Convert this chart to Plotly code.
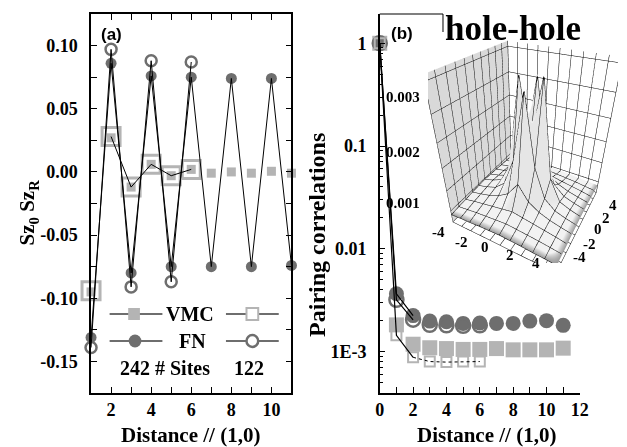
import plotly.graph_objects as go
import numpy as np

W, H = 627, 447

# ---------------- data: panel (a) ----------------
dist_a_242 = [1, 2, 3, 4, 5, 6, 7, 8, 9, 10, 11]
dist_a_122 = [1, 2, 3, 4, 5, 6]
vmc_242_a = [-0.095, 0.027, -0.012, 0.006, -0.003, 0.002, -0.001, 0.0, -0.001, 0.0005, -0.001]
vmc_122_a = [-0.094, 0.028, -0.012, 0.006, -0.003, 0.002]
fn_242_a = [-0.131, 0.086, -0.080, 0.076, -0.075, 0.075, -0.075, 0.074, -0.075, 0.074, -0.074]
fn_122_a = [-0.139, 0.097, -0.091, 0.088, -0.087, 0.087]

yticks_a = [-0.15, -0.10, -0.05, 0.00, 0.05, 0.10]
yticktext_a = ["-0.15", "-0.10", "-0.05", "0.00", "0.05", "0.10"]
xticks_a = [2, 4, 6, 8, 10]

# ---------------- data: panel (b) ----------------
dist_b_242 = [0, 1, 2, 3, 4, 5, 6, 7, 8, 9, 10, 11]
dist_b_122 = [0, 1, 2, 3, 4, 5, 6]
fn_242_b = [1.0, 0.00365, 0.00224, 0.00198, 0.00195, 0.00188, 0.0019, 0.00188, 0.00188, 0.00198, 0.0020, 0.0018]
fn_122_b = [1.0, 0.00319, 0.00204, 0.00182, 0.0018, 0.00178, 0.0018]
vmc_242_b = [1.0, 0.00182, 0.00118, 0.00109, 0.00107, 0.00105, 0.00105, 0.00107, 0.00104, 0.00104, 0.00104, 0.00108]
vmc_122_b = [1.0, 0.00144, 0.00088, 0.00080, 0.00079, 0.00080, 0.00080]

yticks_b = [0.001, 0.01, 0.1, 1]
yticktext_b = ["1E-3", "0.01", "0.1", "1"]
xticks_b = [0, 2, 4, 6, 8, 10, 12]

# ---------------- data: inset surface (units of 1e-3) ----------------
inset_x = [-5, -4, -3, -2, -1, 0, 1, 2, 3, 4, 5]
inset_y = [-5, -4, -3, -2, -1, 0, 1, 2, 3, 4, 5]
inset_z_milli = [
    [0.90, 0.92, 0.93, 0.95, 0.96, 0.97, 0.96, 0.95, 0.93, 0.92, 0.90],
    [0.92, 0.95, 0.98, 1.00, 1.02, 1.04, 1.02, 1.00, 0.98, 0.95, 0.92],
    [0.93, 0.98, 1.02, 1.06, 1.10, 1.14, 1.10, 1.06, 1.02, 0.98, 0.93],
    [0.95, 1.00, 1.06, 1.15, 1.30, 1.62, 1.30, 1.15, 1.06, 1.00, 0.95],
    [0.96, 1.02, 1.10, 1.30, 1.92, 3.30, 1.92, 1.30, 1.10, 1.02, 0.96],
    [0.97, 1.04, 1.14, 1.60, 3.45, 2.20, 3.50, 1.60, 1.14, 1.04, 0.97],
    [0.96, 1.02, 1.10, 1.30, 1.90, 3.40, 1.90, 1.30, 1.10, 1.02, 0.96],
    [0.95, 1.00, 1.06, 1.15, 1.30, 1.60, 1.30, 1.15, 1.06, 1.00, 0.95],
    [0.93, 0.98, 1.02, 1.06, 1.10, 1.14, 1.10, 1.06, 1.02, 0.98, 0.93],
    [0.92, 0.95, 0.98, 1.00, 1.02, 1.04, 1.02, 1.00, 0.98, 0.95, 0.92],
    [0.90, 0.92, 0.93, 0.95, 0.96, 0.97, 0.96, 0.95, 0.93, 0.92, 0.90],
]
inset_xy_labels = ["-4", "-2", "0", "2", "4"]
inset_z_labels = ["0.003", "0.002", "0.001"]

# ---------------- styles ----------------
SERIF = "Liberation Serif"
SANS = "Liberation Sans"
LIGHT = "#b4b4b4"
DARK = "#6e6e6e"


def px(x):
    return x / W


def py(y):
    return 1 - y / H


def bold(items):
    return ["<b>%s</b>" % t for t in items]


fig = go.Figure()

# ---- panel (a) markers ----
fig.add_trace(go.Scatter(x=dist_a_122, y=vmc_122_a, mode="markers", xaxis="x", yaxis="y",
                         marker=dict(symbol="square-open", size=18, color=LIGHT, line=dict(width=3, color=LIGHT)),
                         cliponaxis=False, showlegend=False))
fig.add_trace(go.Scatter(x=dist_a_242, y=vmc_242_a, mode="markers", xaxis="x", yaxis="y",
                         marker=dict(symbol="square", size=9, color=LIGHT), cliponaxis=False, showlegend=False))
fig.add_trace(go.Scatter(x=dist_a_242, y=fn_242_a, mode="markers", xaxis="x", yaxis="y",
                         marker=dict(symbol="circle", size=11, color=DARK), cliponaxis=False, showlegend=False))
fig.add_trace(go.Scatter(x=dist_a_122, y=fn_122_a, mode="markers", xaxis="x", yaxis="y",
                         marker=dict(symbol="circle-open", size=11, color=DARK, line=dict(width=2.5, color=DARK)),
                         cliponaxis=False, showlegend=False))
# ---- panel (a) connecting lines (thin black, on top) ----
for xs, ys in [(dist_a_122[1:], vmc_122_a[1:]), (dist_a_242, fn_242_a), (dist_a_122, fn_122_a)]:
    fig.add_trace(go.Scatter(x=xs, y=ys, mode="lines", xaxis="x", yaxis="y",
                             line=dict(color="black", width=1), showlegend=False, hoverinfo="skip"))

# ---- panel (b) ----
fig.add_trace(go.Scatter(x=dist_b_242, y=vmc_242_b, mode="markers", xaxis="x2", yaxis="y2",
                         marker=dict(symbol="square", size=15, color=LIGHT), cliponaxis=False, showlegend=False))
fig.add_trace(go.Scatter(x=dist_b_242, y=fn_242_b, mode="markers", xaxis="x2", yaxis="y2",
                         marker=dict(symbol="circle", size=15, color=DARK), cliponaxis=False, showlegend=False))
fig.add_trace(go.Scatter(x=dist_b_122, y=fn_122_b, mode="markers", xaxis="x2", yaxis="y2",
                         marker=dict(symbol="circle-open", size=14, color=DARK, line=dict(width=2.5, color=DARK)),
                         cliponaxis=False, showlegend=False))
fig.add_trace(go.Scatter(x=dist_b_122, y=vmc_122_b, mode="markers", xaxis="x2", yaxis="y2",
                         marker=dict(symbol="square-open", size=10, color=LIGHT, line=dict(width=2, color=LIGHT)),
                         cliponaxis=False, showlegend=False))
for xs, ys in [(dist_b_242, fn_242_b), (dist_b_122, fn_122_b), (dist_b_122, vmc_122_b)]:
    fig.add_trace(go.Scatter(x=xs[:3], y=ys[:3], mode="lines", xaxis="x2", yaxis="y2",
                             line=dict(color="black", width=1.2), showlegend=False, hoverinfo="skip"))
fig.add_trace(go.Scatter(x=dist_b_122[2:], y=vmc_122_b[2:], mode="lines", xaxis="x2", yaxis="y2",
                         line=dict(color="black", width=1, dash="dot"), showlegend=False, hoverinfo="skip"))

# ---- inset surface ----
zz = np.array(inset_z_milli) * 1e-3
edge = np.zeros_like(zz)
edge[0, :] = 1
edge[:, -1] = 1
fig.add_trace(go.Surface(
    x=inset_x, y=inset_y, z=zz, surfacecolor=edge, scene="scene",
    colorscale=[[0, "#f2f2f2"], [0.5, "#f2f2f2"], [1, "#9a9a9a"]], cmin=0, cmax=1, showscale=False,
    lighting=dict(ambient=0.95, diffuse=0.2, specular=0.0, roughness=1.0, fresnel=0.0),
    contours=dict(
        x=dict(show=True, start=-5, end=5, size=1, color="black", width=1, highlight=False),
        y=dict(show=True, start=-5, end=5, size=1, color="black", width=1, highlight=False),
        z=dict(highlight=False),
    ),
    hoverinfo="skip",
))

TICK_SIZE = 18
tf = dict(family=SERIF, size=TICK_SIZE, color="black", weight="bold")
ax_common = dict(showline=True, linecolor="black", linewidth=1.5, showgrid=False, zeroline=False,
                 ticks="inside", ticklen=6, tickwidth=1.2, tickcolor="black", tickfont=tf)

xy_tickvals = list(range(-5, 6))
z_tickvals = [0.0005, 0.001, 0.0015, 0.002, 0.0025, 0.003, 0.0035]

scene_axis = dict(showgrid=True, gridcolor="black", gridwidth=1, showline=True, linecolor="black",
                  linewidth=1, ticks="", showspikes=False, title=dict(text=""), showticklabels=False,
                  zeroline=False)

fig.update_layout(
    width=W, height=H,
    margin=dict(l=0, r=0, t=0, b=0),
    paper_bgcolor="white", plot_bgcolor="white",
    font=dict(family=SERIF, size=TICK_SIZE, color="black"),
    showlegend=False,
    xaxis=dict(domain=[px(88), px(293)], range=[1, 11], tickvals=xticks_a, ticktext=bold([str(v) for v in xticks_a]),
               mirror="allticks",
               minor=dict(ticks="inside", ticklen=6, dtick=1, tickcolor="black"), anchor="y", **ax_common),
    yaxis=dict(domain=[py(393), py(14)], range=[-0.175, 0.125], tickvals=yticks_a, ticktext=bold(yticktext_a),
               mirror="allticks", minor=dict(ticks="inside", ticklen=6, dtick=0.025, tick0=0, tickcolor="black"),
               ticklabelstandoff=8, anchor="x", **ax_common),
    xaxis2=dict(domain=[px(383.3), px(588)], range=[0, 12], tickvals=xticks_b,
                ticktext=bold([str(v) for v in xticks_b]),
                minor=dict(ticks="inside", ticklen=6, dtick=1, tickcolor="black"), anchor="y2", **ax_common),
    yaxis2=dict(domain=[py(392.7), py(14)], type="log", range=[-3.4, 0.285], tickvals=yticks_b,
                ticktext=bold(yticktext_b), ticklabelstandoff=8,
                minor=dict(ticks="inside", ticklen=4, dtick="D1", tickcolor="black"), anchor="x2", **ax_common),
    scene=dict(
        domain=dict(x=[0.69, 1.0], y=[0.41, 0.93]),
        bgcolor="rgba(0,0,0,0)",
        xaxis=dict(range=[-5, 5], tickvals=xy_tickvals, showbackground=True,
                   backgroundcolor="#d9d9d9", **scene_axis),
        yaxis=dict(range=[-5, 5], tickvals=xy_tickvals, showbackground=True,
                   backgroundcolor="white", **scene_axis),
        zaxis=dict(range=[0.0007, 0.0036], tickvals=z_tickvals, showbackground=False, **scene_axis),
        aspectmode="manual", aspectratio=dict(x=1, y=1, z=1.35),
        camera=dict(eye=dict(x=0.88, y=-1.68, z=1.27), center=dict(x=-0.05, y=-0.025, z=0),
                    up=dict(x=0, y=0, z=1)),
    ),
)

# ---- legend for panel (a), drawn as decorations ----
shapes = []
for y0 in (314, 341):
    shapes.append(dict(type="line", xref="paper", yref="paper", x0=px(107), x1=px(161), y0=py(y0), y1=py(y0),
                       line=dict(color=DARK, width=2)))
    shapes.append(dict(type="line", xref="paper", yref="paper", x0=px(226), x1=px(280), y0=py(y0), y1=py(y0),
                       line=dict(color=DARK, width=2)))
shapes.append(dict(type="rect", xref="paper", yref="paper", x0=px(126), x1=px(138), y0=py(320), y1=py(308),
                   fillcolor=LIGHT, line=dict(width=0)))
shapes.append(dict(type="rect", xref="paper", yref="paper", x0=px(247), x1=px(259), y0=py(320), y1=py(308),
                   fillcolor="white", line=dict(color=LIGHT, width=2)))
shapes.append(dict(type="circle", xref="paper", yref="paper", x0=px(126.5), x1=px(139.5), y0=py(347.5), y1=py(334.5),
                   fillcolor=DARK, line=dict(width=0)))
shapes.append(dict(type="circle", xref="paper", yref="paper", x0=px(247), x1=px(259), y0=py(347), y1=py(335),
                   fillcolor="white", line=dict(color=DARK, width=2.5)))
# short top frame stub of panel (b)
shapes.append(dict(type="line", xref="paper", yref="paper", x0=px(383.3), x1=px(448), y0=py(14), y1=py(14),
                   line=dict(color="black", width=1.2)))
shapes.append(dict(type="line", xref="paper", yref="paper", x0=px(448), x1=px(448), y0=py(14), y1=py(32),
                   line=dict(color="black", width=1)))
fig.update_layout(shapes=shapes)

legfont = dict(family=SERIF, size=20, color="black", weight="bold")
annots = [
    dict(text="VMC", x=px(189), y=py(314)),
    dict(text="FN", x=px(192), y=py(341)),
    dict(text="242", x=px(133), y=py(368)),
    dict(text="# Sites", x=px(182), y=py(368)),
    dict(text="122", x=px(250), y=py(368)),
]
for a in annots:
    fig.add_annotation(xref="paper", yref="paper", showarrow=False, xanchor="center", yanchor="middle",
                       font=legfont, **a)

# inset tick labels
ifont = dict(family=SERIF, size=15, color="black", weight="bold")
for t, (xx, yy) in zip(inset_xy_labels, [(443, 232), (467, 242), (491, 247), (517, 255), (543, 263)]):
    fig.add_annotation(text=t, xref="paper", yref="paper", x=px(xx), y=py(yy), showarrow=False,
                       xanchor="center", yanchor="middle", font=ifont)
for t, (xx, yy) in zip(inset_xy_labels, [(588, 257), (598, 244), (607, 229), (615, 218), (622, 205)]):
    fig.add_annotation(text=t, xref="paper", yref="paper", x=px(xx), y=py(yy), showarrow=False,
                       xanchor="center", yanchor="middle", font=ifont)
for t, yy in zip(inset_z_labels, [97, 152, 203]):
    fig.add_annotation(text=t, xref="paper", yref="paper", x=px(427), y=py(yy), showarrow=False,
                       xanchor="right", yanchor="middle", font=ifont)

titlefont = dict(family=SERIF, size=21, color="black", weight="bold")
fig.add_annotation(text="Distance // (1,0)", xref="paper", yref="paper", x=px(190), y=py(435), showarrow=False,
                   xanchor="center", yanchor="middle", font=titlefont)
fig.add_annotation(text="Distance // (1,0)", xref="paper", yref="paper", x=px(492), y=py(435), showarrow=False,
                   xanchor="center", yanchor="middle", font=titlefont)
fig.add_annotation(text="Sz<sub>0</sub> Sz<sub>R</sub>", xref="paper", yref="paper", x=px(24), y=py(212),
                   showarrow=False, textangle=-90, xanchor="center", yanchor="middle", font=titlefont)
fig.add_annotation(text="Pairing correlations", xref="paper", yref="paper", x=px(319), y=py(235),
                   showarrow=False, textangle=-90, xanchor="center", yanchor="middle",
                   font=dict(family=SERIF, size=24, color="black", weight="bold"))

fig.add_annotation(text="(a)", xref="paper", yref="paper", x=px(109), y=py(34), showarrow=False,
                   xanchor="center", yanchor="middle", font=dict(family=SANS, size=17, color="black", weight="bold"))
fig.add_annotation(text="(b)", xref="paper", yref="paper", x=px(406), y=py(33), showarrow=False,
                   xanchor="center", yanchor="middle", font=dict(family=SANS, size=17, color="black", weight="bold"))
fig.add_annotation(text="hole-hole", xref="paper", yref="paper", x=px(520), y=py(28), showarrow=False,
                   xanchor="center", yanchor="middle", font=dict(family=SERIF, size=35, color="black", weight="bold"))

fig.write_html("out.html", config={"displayModeBar": False},
               post_script="document.body.style.margin='0px';")
